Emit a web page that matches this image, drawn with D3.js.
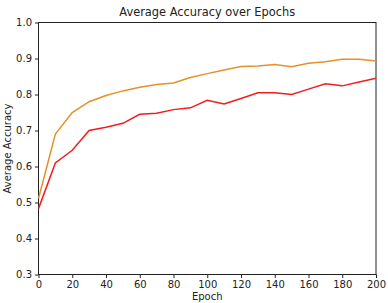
<!DOCTYPE html>
<html>
<head>
<meta charset="utf-8">
<script src="https://cdn.jsdelivr.net/npm/d3@7"></script>
<style>
body { margin: 0; background: #fff; }
text { font-family: "DejaVu Sans", sans-serif; fill: #222; }
</style>
</head>
<body>
<div id="chart"></div>
<script>
var epochs = [0, 10, 20, 30, 40, 50, 60, 70, 80, 90, 100, 110, 120, 130, 140, 150, 160, 170, 180, 190, 200];
var accA = [0.511, 0.69, 0.75, 0.78, 0.797, 0.81, 0.82, 0.828, 0.832, 0.847, 0.858, 0.868, 0.878, 0.879, 0.883, 0.877, 0.887, 0.891, 0.898, 0.898, 0.893];
var accB = [0.483, 0.61, 0.645, 0.70, 0.709, 0.72, 0.745, 0.748, 0.758, 0.763, 0.784, 0.774, 0.789, 0.805, 0.805, 0.80, 0.815, 0.83, 0.824, 0.835, 0.845];
var xTicks = [0, 20, 40, 60, 80, 100, 120, 140, 160, 180, 200];
var yTicks = [0.3, 0.4, 0.5, 0.6, 0.7, 0.8, 0.9, 1.0];

var width = 388, height = 303;
var margin = {top: 22.5, right: 12, bottom: 28.5, left: 38.5};

var svg = d3.select("#chart")
	.append("svg")
	.attr("width", width)
	.attr("height", height);

var x = d3.scaleLinear().domain([0, 200]).range([margin.left, width - margin.right]);
var y = d3.scaleLinear().domain([0.3, 1.0]).range([height - margin.bottom, margin.top]);

var xAxis = svg.append("g")
	.attr("transform", "translate(0," + (height - margin.bottom) + ")")
	.call(d3.axisBottom(x).tickValues(xTicks).tickSize(3.5).tickPadding(3).tickFormat(d3.format("d")));

var yAxis = svg.append("g")
	.attr("transform", "translate(" + margin.left + ",0)")
	.call(d3.axisLeft(y).tickValues(yTicks).tickSize(3.5).tickPadding(3).tickFormat(d3.format(".1f")));

[xAxis, yAxis].forEach(function(a){
	a.selectAll("text").attr("font-size", 10).attr("fill", "#222");
	a.selectAll("line").attr("stroke", "#222");
	a.select(".domain").remove();
});

// frame
svg.append("rect")
	.attr("x", margin.left)
	.attr("y", margin.top)
	.attr("width", width - margin.right - margin.left)
	.attr("height", height - margin.bottom - margin.top)
	.attr("fill", "none")
	.attr("stroke", "#222")
	.attr("stroke-width", 1);

var line = d3.line()
	.x(function(d, i){ return x(epochs[i]); })
	.y(function(d){ return y(d); });

svg.append("path")
	.datum(accA)
	.attr("d", line)
	.attr("fill", "none")
	.attr("stroke", "#e3922a")
	.attr("stroke-width", 1.5);

svg.append("path")
	.datum(accB)
	.attr("d", line)
	.attr("fill", "none")
	.attr("stroke", "#f21c1c")
	.attr("stroke-width", 1.5);

svg.append("text")
	.attr("x", (margin.left + width - margin.right) / 2)
	.attr("y", 16)
	.attr("text-anchor", "middle")
	.attr("font-size", 11.4)
	.text("Average Accuracy over Epochs");

svg.append("text")
	.attr("x", (margin.left + width - margin.right) / 2)
	.attr("y", 300)
	.attr("text-anchor", "middle")
	.attr("font-size", 10)
	.text("Epoch");

svg.append("text")
	.attr("transform", "translate(11," + ((margin.top + height - margin.bottom) / 2) + ") rotate(-90)")
	.attr("text-anchor", "middle")
	.attr("font-size", 10)
	.text("Average Accuracy");
</script>
</body>
</html>
